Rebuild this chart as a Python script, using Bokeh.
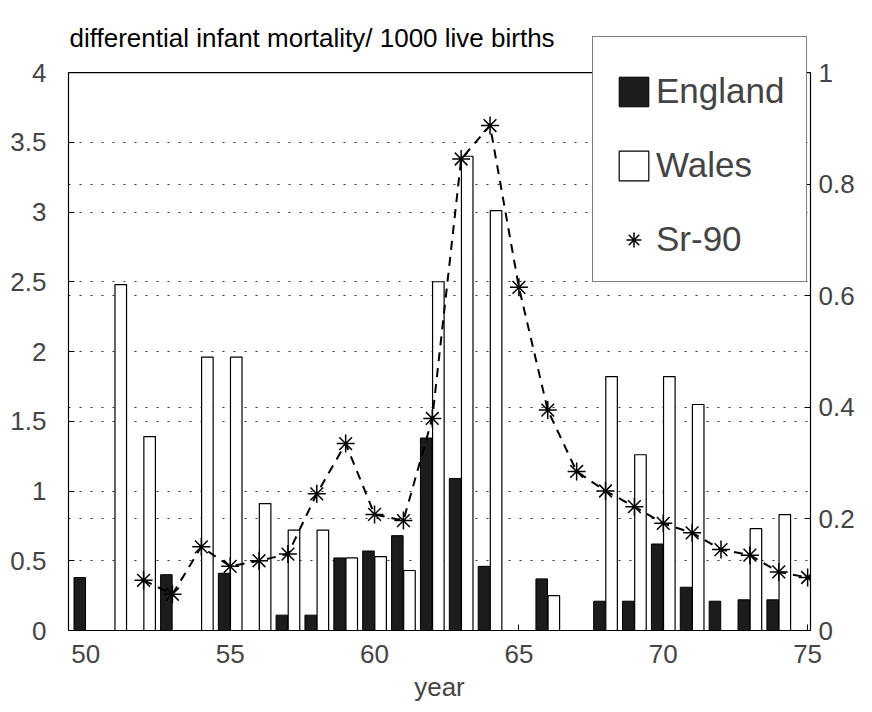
from bokeh.plotting import figure
from bokeh.models import (LinearAxis, Range1d, FixedTicker, Legend, LegendItem,
                          Grid, ColumnDataSource, Span, Label)
from bokeh.transform import dodge
from bokeh.embed import file_html
from bokeh.resources import INLINE

# ---- data -------------------------------------------------------------
years = list(range(50, 76))
england = [0.38, 0, 0, 0.40, 0, 0.41, 0, 0.11, 0.11, 0.52, 0.57, 0.68, 1.38,
           1.09, 0.46, 0, 0.37, 0, 0.21, 0.21, 0.62, 0.31, 0.21, 0.22, 0.22, 0]
wales = [0, 2.48, 1.39, 0, 1.96, 1.96, 0.91, 0.72, 0.72, 0.52, 0.53, 0.43, 2.50,
         3.40, 3.01, 0, 0.25, 0, 1.82, 1.26, 1.82, 1.62, 0, 0.73, 0.83, 0]
sr_years = list(range(52, 76))
sr90 = [0.09, 0.065, 0.15, 0.115, 0.125, 0.137, 0.245, 0.335, 0.208, 0.197,
        0.38, 0.845, 0.905, 0.615, 0.395, 0.285, 0.25, 0.222, 0.192, 0.175,
        0.145, 0.135, 0.105, 0.095]

left_ticks = [0, 0.5, 1, 1.5, 2, 2.5, 3, 3.5, 4]
left_labels = ["0", "0.5", "1", "1.5", "2", "2.5", "3", "3.5", "4"]
right_ticks = [0, 0.2, 0.4, 0.6, 0.8, 1]
right_labels = ["0", "0.2", "0.4", "0.6", "0.8", "1"]
x_ticks = [50, 55, 60, 65, 70, 75]

TITLE = "differential infant mortality/ 1000 live births"
FONT = "Liberation Sans"

# left axis tops out at 4, right at 1; extra headroom above for title + legend
Y_TOP = 4.373
R_TOP = Y_TOP / 4.0

bars = ColumnDataSource(dict(year=years, england=england, wales=wales))
srsrc = ColumnDataSource(dict(year=sr_years, sr=sr90))

p = figure(width=860, height=710, output_backend="svg", toolbar_location=None,
           x_range=Range1d(49.4, 75.1), y_range=Range1d(0, Y_TOP),
           min_border_left=68, min_border_right=50, min_border_top=20,
           min_border_bottom=80)
p.extra_y_ranges = {"sr": Range1d(0, R_TOP)}
p.outline_line_color = None
p.background_fill_color = "white"

eng = p.vbar(x=dodge("year", -0.21, range=p.x_range), top="england", width=0.4,
             source=bars, fill_color="#1c1c1c", line_color="black", line_width=1)
wal = p.vbar(x=dodge("year", 0.21, range=p.x_range), top="wales", width=0.4,
             source=bars, fill_color="white", line_color="black", line_width=1.2)

p.line("year", "sr", source=srsrc, y_range_name="sr", line_color="black",
       line_width=2, line_dash="9 7")
sc = p.scatter("year", "sr", source=srsrc, y_range_name="sr", marker="asterisk",
               size=18, line_color="black", line_width=1.5)

# axes
for ax in [p.xaxis[0], p.yaxis[0]]:
    ax.major_tick_in = 6
    ax.major_tick_out = 0
    ax.minor_tick_line_color = None
    ax.major_label_text_font = FONT
    ax.major_label_text_font_size = "26px"
    ax.axis_line_color = "black"
    ax.axis_line_width = 1.2

p.xaxis.ticker = FixedTicker(ticks=x_ticks)
p.xaxis.major_label_standoff = 14
p.xaxis.axis_label = "year"
p.xaxis.axis_label_text_font = FONT
p.xaxis.axis_label_text_font_size = "26px"
p.xaxis.axis_label_text_font_style = "normal"
p.xaxis.axis_label_standoff = 6

p.yaxis.ticker = FixedTicker(ticks=left_ticks)
p.yaxis.major_label_overrides = {t: s for t, s in zip(left_ticks, left_labels)}
p.yaxis.major_label_standoff = 22
p.yaxis.bounds = (0, 4)

rax = LinearAxis(y_range_name="sr", ticker=FixedTicker(ticks=right_ticks))
rax.major_label_overrides = {t: s for t, s in zip(right_ticks, right_labels)}
rax.major_tick_in = 6
rax.major_tick_out = 0
rax.minor_tick_line_color = None
rax.major_label_text_font = FONT
rax.major_label_text_font_size = "26px"
rax.major_label_standoff = 8
rax.axis_line_width = 1.2
rax.bounds = (0, 1)
p.add_layout(rax, "right")

# top edge of the box at y = 4
p.add_layout(Span(location=4, dimension="width", line_color="black", line_width=1.2))

# grids: dotted, at both axes' ticks
p.xgrid.grid_line_color = None
p.ygrid.ticker = FixedTicker(ticks=left_ticks)
p.ygrid.grid_line_color = "#333333"
p.ygrid.grid_line_dash = "2 9"
p.ygrid.grid_line_width = 1.2
rgrid = Grid(dimension=1, y_range_name="sr", ticker=FixedTicker(ticks=right_ticks),
             grid_line_color="#333333", grid_line_dash="2 9", grid_line_width=1.2)
p.add_layout(rgrid)

# title inside the headroom
p.add_layout(Label(x=49.4, y=4.244, text=TITLE, x_offset=1, text_font=FONT,
                   text_font_size="26px", text_baseline="middle",
                   text_color="black"))

legend = Legend(items=[LegendItem(label="England", renderers=[eng]),
                       LegendItem(label="Wales", renderers=[wal]),
                       LegendItem(label="Sr-90", renderers=[sc])],
                location=(524, 348), title=" ", title_text_font_size="8px",
                title_standoff=3, padding=22, spacing=34, glyph_width=37,
                glyph_height=37, label_standoff=4, label_text_font=FONT,
                label_text_font_size="35px", border_line_color="black",
                border_line_width=1.5, background_fill_color="white",
                background_fill_alpha=1.0)
p.add_layout(legend, "center")

open("out.html", "w").write(file_html(p, INLINE))
